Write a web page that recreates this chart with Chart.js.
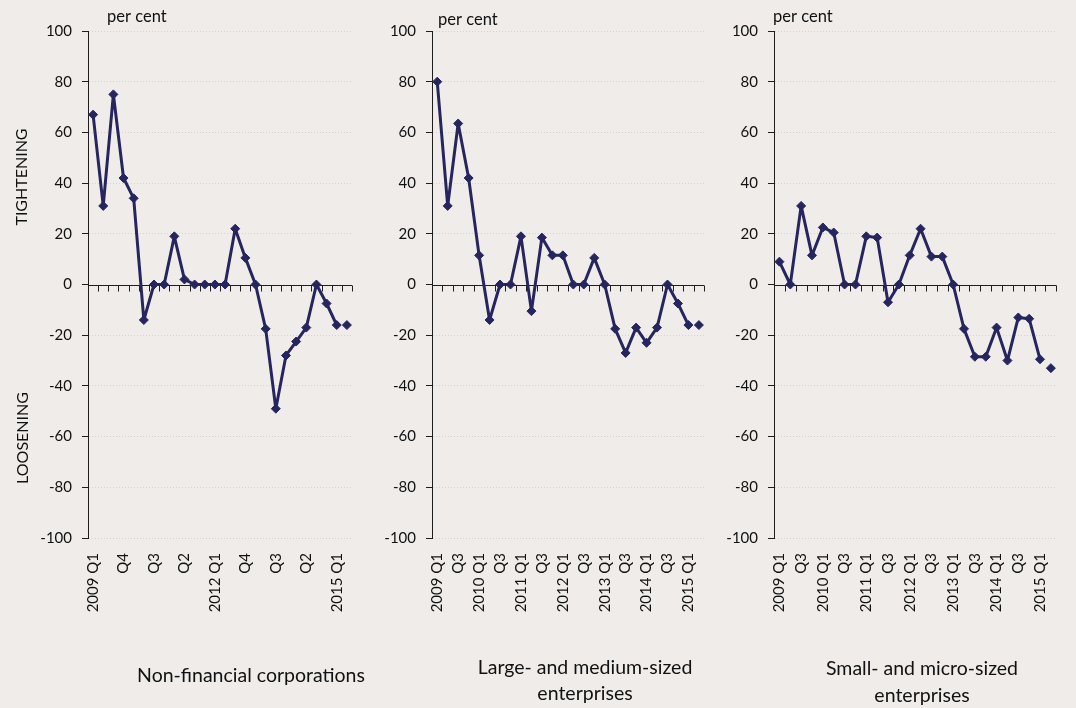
<!DOCTYPE html>
<html>
<head>
<meta charset="utf-8">
<script src="https://cdn.jsdelivr.net/npm/chart.js@4.4.0/dist/chart.umd.min.js"></script>
<style>
  body { margin: 0; background: #efece9; }
  #wrap { position: relative; width: 1076px; height: 708px; overflow: hidden; }
  .panel { position: absolute; top: 0; height: 708px; }
</style>
</head>
<body>
<div id="wrap">
  <div class="panel" style="left:0;width:372px"><canvas id="c1"></canvas></div>
  <div class="panel" style="left:372px;width:352px"><canvas id="c2"></canvas></div>
  <div class="panel" style="left:724px;width:352px"><canvas id="c3"></canvas></div>
</div>
<script>
// quarters 2009 Q1 .. 2015 Q2 (last one is the expectation)
const quarters = [
  '2009 Q1', 'Q2', 'Q3', 'Q4',
  '2010 Q1', 'Q2', 'Q3', 'Q4',
  '2011 Q1', 'Q2', 'Q3', 'Q4',
  '2012 Q1', 'Q2', 'Q3', 'Q4',
  '2013 Q1', 'Q2', 'Q3', 'Q4',
  '2014 Q1', 'Q2', 'Q3', 'Q4',
  '2015 Q1', 'Q2'
];
const yTicks = [-100, -80, -60, -40, -20, 0, 20, 40, 60, 80, 100];

const nonFinancial = [67, 31, 75, 42, 34, -14, 0, 0, 19, 2, 0, 0, 0, 0, 22, 10.5, 0, -17.5, -49, -28, -22.5, -17, 0, -7.5, -16];
const nonFinancialExpected = -16;

const largeMedium = [80, 31, 63.5, 42, 11.5, -14, 0, 0, 19, -10.5, 18.5, 11.5, 11.5, 0, 0, 10.5, 0, -17.5, -27, -17, -23, -17, 0, -7.5, -16];
const largeMediumExpected = -16;

const smallMicro = [9, 0, 31, 11.5, 22.5, 20.5, 0, 0, 19, 18.5, -7, 0, 11.5, 22, 11, 11, 0, -17.5, -28.5, -28.5, -17, -30, -13, -13.5, -29.5];
const smallMicroExpected = -33;

const lineColor = '#26255e';
const axisColor = '#1e1e1e';
const textColor = '#111111';
const font = 'Lato, "Open Sans", sans-serif';

// zero line with category tick marks, plus free text labels
const decor = {
  id: 'decor',
  beforeDatasetsDraw(chart) {
    const { ctx, chartArea: a, scales: { x, y } } = chart;
    const y0 = Math.round(y.getPixelForValue(0)) + 0.5;
    const n = chart.data.labels.length;
    ctx.save();
    ctx.strokeStyle = axisColor;
    ctx.lineWidth = 1;
    ctx.beginPath();
    ctx.moveTo(a.left, y0);
    ctx.lineTo(a.right, y0);
    for (let i = 1; i <= n; i++) {
      const px = Math.round(x.getPixelForValue(i - 0.5)) + 0.5;
      ctx.moveTo(px, y0);
      ctx.lineTo(px, y0 + 6);
    }
    ctx.stroke();
    ctx.restore();
  },
  afterDraw(chart, args, opts) {
    const ctx = chart.ctx;
    ctx.save();
    ctx.fillStyle = textColor;
    ctx.textBaseline = 'middle';
    (opts.texts || []).forEach(t => {
      ctx.font = t.size + 'px ' + font;
      ctx.textAlign = t.align || 'center';
      ctx.save();
      ctx.translate(t.x, t.y);
      if (t.rotate) ctx.rotate(-Math.PI / 2);
      ctx.fillText(t.text, 0, 0);
      ctx.restore();
    });
    ctx.restore();
  }
};

function makePanel(id, values, expected, opts) {
  const expectedData = quarters.map((q, i) => i === quarters.length - 1 ? expected : null);
  const point = {
    borderColor: lineColor,
    backgroundColor: lineColor,
    pointStyle: 'rectRot',
    pointRadius: 4.5,
    pointBorderWidth: 1,
    pointBackgroundColor: lineColor,
    pointBorderColor: lineColor
  };
  new Chart(document.getElementById(id), {
    type: 'line',
    data: {
      labels: quarters,
      datasets: [
        Object.assign({ data: values, borderWidth: 3, tension: 0, borderJoinStyle: 'round', borderCapStyle: 'round' }, point),
        Object.assign({ data: expectedData, showLine: false }, point)
      ]
    },
    options: {
      responsive: true,
      maintainAspectRatio: false,
      animation: false,
      events: [],
      layout: { padding: { top: 31, right: opts.padRight, left: 0, bottom: 0 } },
      plugins: {
        legend: { display: false },
        tooltip: { enabled: false },
        decor: { texts: opts.texts }
      },
      scales: {
        x: {
          offset: true,
          grid: { display: false, offset: true },
          border: { display: false },
          ticks: {
            autoSkip: false,
            minRotation: 90,
            maxRotation: 90,
            padding: 7,
            color: textColor,
            font: { family: font, size: 15 },
            callback: function (value, index) {
              return index % opts.step === 0 ? this.getLabelForValue(value) : '';
            }
          },
          afterFit: s => { s.height = 170; }
        },
        y: {
          min: yTicks[0],
          max: yTicks[yTicks.length - 1],
          afterBuildTicks: s => { s.ticks = yTicks.map(v => ({ value: v })); },
          grid: {
            color: c => c.tick && c.tick.value === 0 ? 'rgba(0,0,0,0)' : '#d6d2ce',
            lineWidth: 1,
            drawTicks: true,
            tickLength: 6,
            tickColor: axisColor
          },
          border: { display: true, color: axisColor, width: 1, dash: [1, 2] },
          ticks: {
            padding: 10,
            color: textColor,
            font: { family: font, size: 15 }
          },
          afterFit: s => { s.width = opts.yWidth; }
        }
      }
    },
    plugins: [decor]
  });
}

makePanel('c1', nonFinancial, nonFinancialExpected, {
  step: 3, yWidth: 88, padRight: 5,
  texts: [
    { text: 'per cent', x: 107, y: 17, size: 16.5, align: 'left' },
    { text: 'TIGHTENING', x: 22, y: 177, size: 16, rotate: true },
    { text: 'LOOSENING', x: 23, y: 438, size: 16, rotate: true },
    { text: 'Non-financial corporations', x: 251, y: 676, size: 19.5 }
  ]
});
makePanel('c2', largeMedium, largeMediumExpected, {
  step: 2, yWidth: 60, padRight: 3,
  texts: [
    { text: 'per cent', x: 66, y: 20, size: 16.5, align: 'left' },
    { text: 'Large- and medium-sized', x: 213, y: 668, size: 19.5 },
    { text: 'enterprises', x: 213, y: 694, size: 19.5 }
  ]
});
makePanel('c3', smallMicro, smallMicroExpected, {
  step: 2, yWidth: 50, padRight: 6,
  texts: [
    { text: 'per cent', x: 49, y: 17, size: 16.5, align: 'left' },
    { text: 'Small- and micro-sized', x: 198, y: 669, size: 19.5 },
    { text: 'enterprises', x: 198, y: 696, size: 19.5 }
  ]
});
</script>
</body>
</html>
